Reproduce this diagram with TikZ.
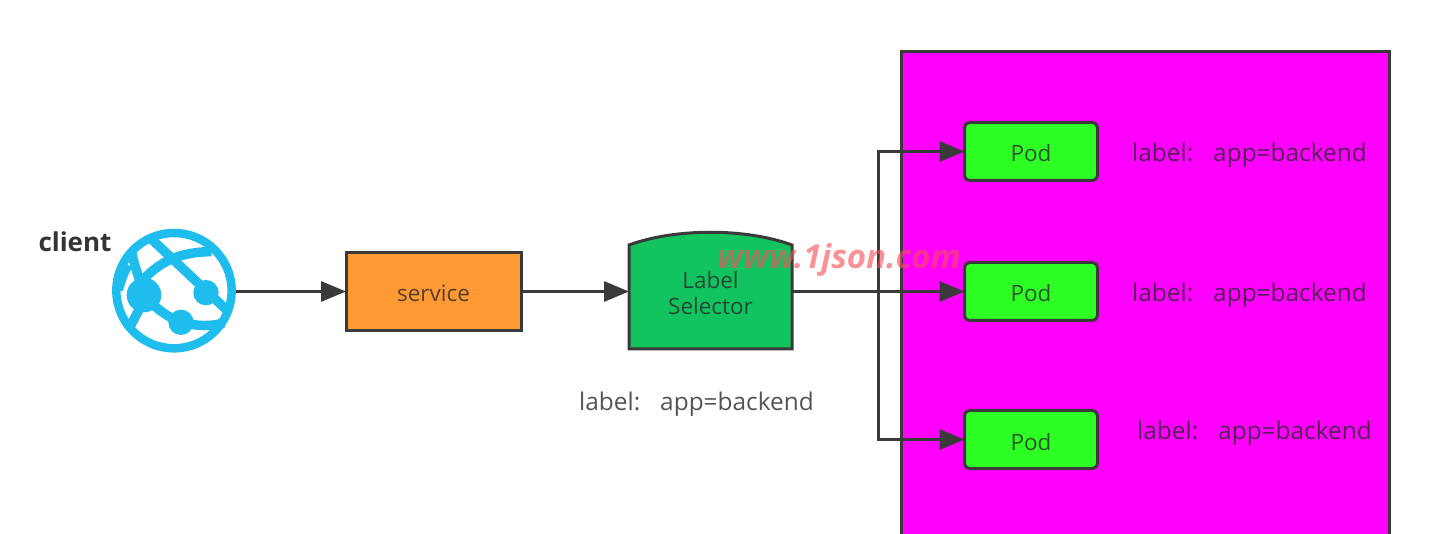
\documentclass[tikz,border=0pt]{standalone}
\usepackage{fontspec}
\setmainfont{Open Sans}
\usetikzlibrary{arrows.meta,calc}
\definecolor{edgecol}{HTML}{3A3A3A}
\definecolor{globecol}{HTML}{1FBDEE}
\definecolor{inkcol}{HTML}{2A2A2A}
\definecolor{podgreen}{HTML}{2DFF25}
\definecolor{svcorange}{HTML}{FF9933}
\definecolor{selgreen}{HTML}{12C460}
\definecolor{groupmag}{HTML}{FF00FF}
\definecolor{markred}{HTML}{F5505A}
\tikzset{
  box/.style={draw=edgecol,line width=3pt,inner sep=0pt,outer sep=0pt,align=center,text=inkcol,text opacity=.8,text height=21pt,text depth=0pt,font=\fontsize{22.5}{26}\selectfont},
  podbox/.style={box,fill=podgreen,rounded corners=5pt,minimum width=133pt,minimum height=58pt},
  lbl/.style={text=inkcol,text opacity=.8,font=\fontsize{24.4}{28}\selectfont,inner sep=0pt},
  link/.style={draw=edgecol,line width=3pt},
  arrow/.style={link,-{Triangle[length=25pt,width=20pt]}},
  globeline/.style={draw=globecol,line width=9.5pt,line cap=butt,fill=none},
  globedot/.style={fill=globecol,draw=none}
}
\begin{document}
\begin{tikzpicture}[x=1pt,y=-1pt]
\useasboundingbox (0,0) rectangle (1430,534);
\clip (0,0) rectangle (1430,534);
\fill[white] (0,0) rectangle (1430,534);
% pod group
\node[draw=edgecol,line width=3pt,fill=groupmag,minimum width=488pt,minimum height=520pt,inner sep=0pt,outer sep=0pt,anchor=north west] (group) at (901.5,52) {};
% globe
\begin{scope}[shift={(20,210)},x=.3333pt,y=-.3333pt]
\draw[globecol,line width=8.5pt,fill=white] (462,242) circle (173);
\draw[globeline] (392,85) -- (618,298);
\draw[globeline] (335,125) .. controls (345,180) and (365,220) .. (372,255) .. controls (365,290) and (345,320) .. (328,355);
\draw[globeline] (365,215) .. controls (420,150) and (490,125) .. (575,125);
\draw[globeline] (372,255) .. controls (410,300) and (450,325) .. (483,335) .. controls (530,350) and (575,350) .. (612,338);
\draw[globeline] (295,240) .. controls (303,210) and (312,185) .. (325,165);
\fill[globedot] (372,255) circle (52);
\fill[globedot] (558,248) circle (38);
\fill[globedot] (483,337) circle (38);
\end{scope}
\node[inner sep=0pt,outer sep=0pt,minimum size=124pt,circle] (client) at (174,291.5) {};
\node[lbl,text opacity=.95,font=\fontsize{26}{30}\selectfont\bfseries,anchor=base] (clienttxt) at (75,252) {client};
% service
\node[box,fill=svcorange,minimum width=175pt,minimum height=78pt] (service) at (433.5,291.5) {service};
% selector
\node[inner sep=0pt,outer sep=0pt,minimum width=163pt,minimum height=112pt] (sel) at (710.5,293) {};
\filldraw[fill=selgreen,draw=edgecol,line width=3pt,line join=miter] (sel.south west) -- ($(sel.north west)+(0,8)$) .. controls ($(sel.north)+(-35,-9)$) and ($(sel.north)+(35,-9)$) .. ($(sel.north east)+(0,8)$) -- (sel.south east) -- cycle;
\node[inner sep=0pt,align=center,text=inkcol,text opacity=.8,font=\fontsize{22.5}{26}\selectfont] (seltxt) at (710.5,293) {Label\\Selector};
\node[lbl,anchor=base west] (sellbl) at (579,410) {label:\hspace{20pt}app=backend};
% pods
\node[podbox] (pod1) at (1031,151.5) {Pod};
\node[podbox] (pod2) at (1031,291.5) {Pod};
\node[podbox] (pod3) at (1031,439.5) {Pod};
\node[lbl,anchor=base west] (l1) at (1132,162) {label:\hspace{20pt}app=backend};
\node[lbl,anchor=base west] (l2) at (1132,302) {label:\hspace{20pt}app=backend};
\node[lbl,anchor=base west] (l3) at (1137,439) {label:\hspace{20pt}app=backend};
% connectors
\coordinate (fork) at (878,291.5);
\draw[arrow] (client.east) -- (service.west);
\draw[arrow] (service.east) -- (service -| sel.west);
\draw[arrow] (service -| sel.east) -- (pod2.west);
\draw[arrow] (fork) |- (pod1.west);
\draw[arrow] (fork) |- (pod3.west);
% watermark
\node[inner sep=0pt,anchor=base west,font=\fontsize{33}{36}\selectfont\bfseries\itshape,text=markred,text opacity=.62] (mark) at (717,269) {www.1json.com};
\end{tikzpicture}
\end{document}
